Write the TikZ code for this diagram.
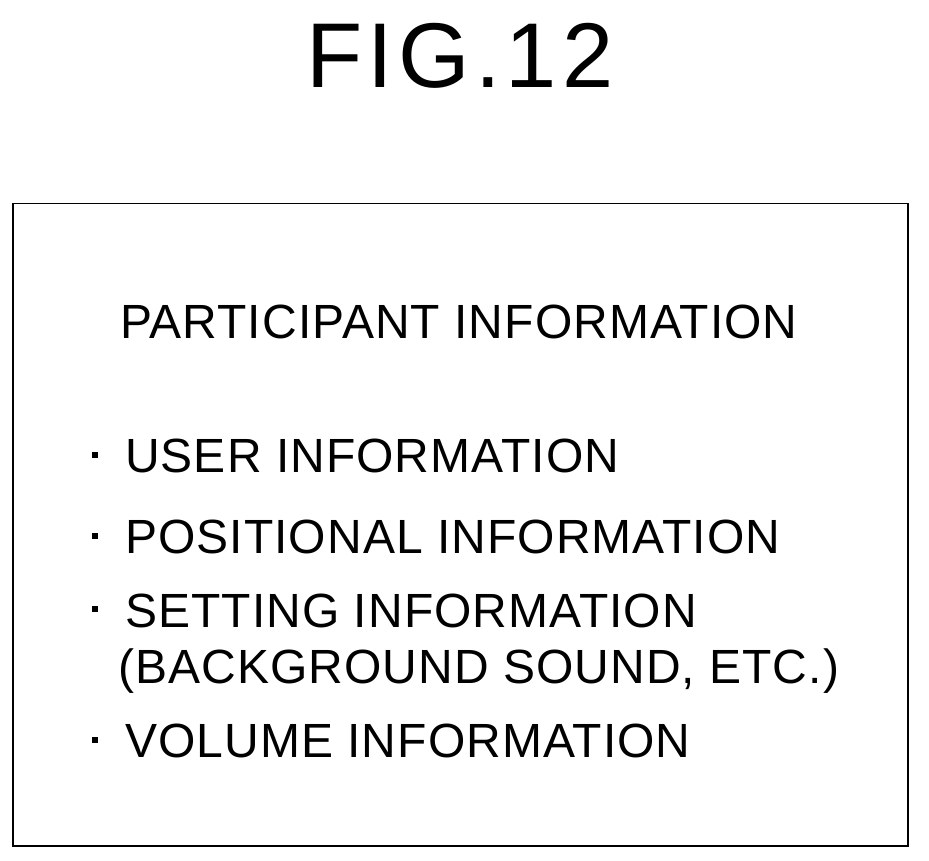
\documentclass[tikz,border=0pt]{standalone}
\usepackage{fontspec}
\setmainfont{Liberation Sans}
\begin{document}
\begin{tikzpicture}[x=1pt,y=-1pt,
  txt/.style={anchor=base west,inner sep=0pt,font=\fontsize{48}{50}\selectfont\addfontfeatures{LetterSpace=2.2}},
  dot/.style={fill=black,minimum size=6pt,inner sep=0pt}]
\useasboundingbox (0,0) rectangle (929,861);
\node[anchor=base,inner sep=0pt,font=\fontsize{92}{95}\selectfont\addfontfeatures{LetterSpace=5.5}] (title) at (460,88) {FIG.12};
\node[draw,line width=1.5pt,minimum width=895pt,minimum height=642pt,anchor=north west,inner sep=0pt] (box) at (12,203) {};
\node[txt] (head) at (120,338) {PARTICIPANT INFORMATION};
\node[dot] (d1) at (95,455) {};
\node[txt] (l1) at (125,472) {USER INFORMATION};
\node[dot] (d2) at (95,536) {};
\node[txt] (l2) at (125,553) {POSITIONAL INFORMATION};
\node[dot] (d3) at (95,609) {};
\node[txt] (l3) at (125,627) {SETTING INFORMATION};
\node[txt] (l4) at (118,683) {(BACKGROUND SOUND, ETC.)};
\node[dot] (d4) at (95,740) {};
\node[txt] (l5) at (125,757) {VOLUME INFORMATION};
\end{tikzpicture}
\end{document}
